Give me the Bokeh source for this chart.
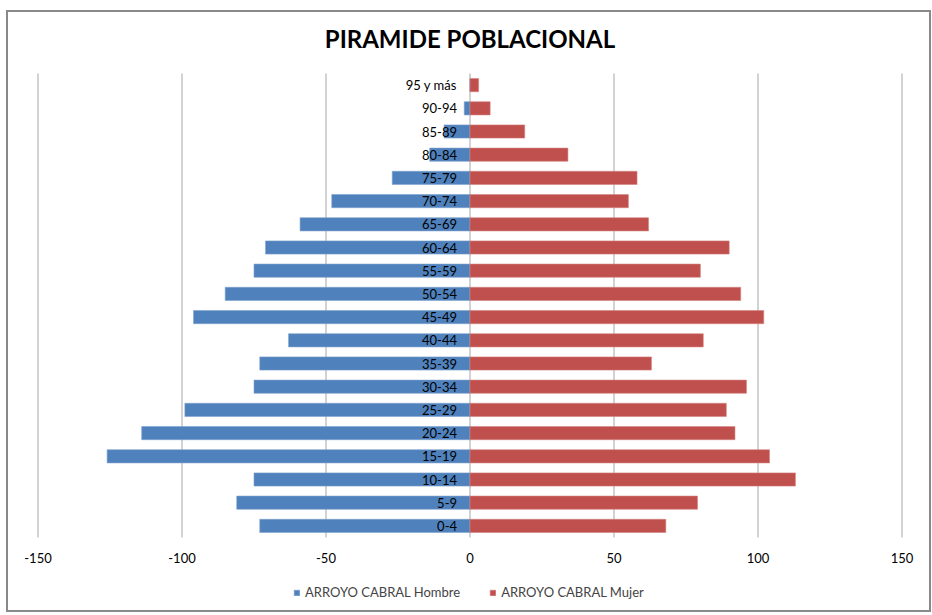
from bokeh.plotting import figure
from bokeh.models import ColumnDataSource, Range1d, Legend, LegendItem
from bokeh.core.properties import value
from bokeh.embed import file_html
from bokeh.resources import INLINE

categories = ["0-4", "5-9", "10-14", "15-19", "20-24", "25-29", "30-34", "35-39",
              "40-44", "45-49", "50-54", "55-59", "60-64", "65-69", "70-74",
              "75-79", "80-84", "85-89", "90-94", "95 y más"]
hombre = [73, 81, 75, 126, 114, 99, 75, 73, 63, 96, 85, 75, 71, 59, 48, 27, 14, 9, 2, 0]
mujer = [68, 79, 113, 104, 92, 89, 96, 63, 81, 102, 94, 80, 90, 62, 55, 58, 34, 19, 7, 3]
x_ticks = [-150, -100, -50, 0, 50, 100, 150]
x_tick_labels = [str(t) for t in x_ticks]
title_text = "PIRAMIDE POBLACIONAL"
series_names = ["ARROYO CABRAL Hombre", "ARROYO CABRAL Mujer"]

FONT = "Lato"
# layout (pixels inside the drawing area)
FW, FH = 921, 598
PX = 432 / 150            # pixels per unit on x
ZERO_PX = 461.5           # x position of 0 from left edge
S = 464 / len(categories)  # pixels per category
TOP_PX = 61               # top of the bar area from the top edge

n = len(categories)
pos = list(range(n))
src = ColumnDataSource(dict(
    y=pos, cat=categories,
    h_left=[-v for v in hombre],
    zero=[0] * n,
    m_right=mujer,
))

x_range = Range1d(-ZERO_PX / PX, (FW - ZERO_PX) / PX)
y_top = (n - 0.5) + TOP_PX / S
y_range = Range1d(y_top - FH / S, y_top)

p = figure(frame_width=FW, frame_height=FH, output_backend="svg", toolbar_location=None,
           x_range=x_range, y_range=y_range, x_axis_location=None, y_axis_location=None,
           min_border=0)
p.grid.visible = False
p.outline_line_color = None

# vertical gridlines
p.segment(x0=x_ticks, x1=x_ticks, y0=[-0.5] * len(x_ticks), y1=[n - 0.5] * len(x_ticks),
          line_color="#A6A6A6", line_width=1)

r_h = p.hbar(y="y", left="h_left", right="zero", height=0.57, source=src,
             fill_color="#4F81BD", line_color="#7FA3CF", line_width=0.6)
r_m = p.hbar(y="y", left="zero", right="m_right", height=0.57, source=src,
             fill_color="#C0504D", line_color="#D58482", line_width=0.6)

# category labels
p.text(x="zero", y="y", text="cat", source=src, x_offset=-13,
       text_align="right", text_baseline="middle", text_font=value(FONT),
       text_font_size="13px", text_color="#000000")

# x tick labels
p.text(x=x_ticks, y=[-0.5] * len(x_ticks), text=x_tick_labels, y_offset=20,
       text_align="center", text_baseline="middle", text_font=value(FONT),
       text_font_size="13px", text_color="#000000")

# title
p.text(x=[0], y=[n - 0.5], text=[title_text], y_offset=-35,
       text_align="center", text_baseline="middle", text_font=value(FONT),
       text_font_size="24px", text_font_style="bold", text_color="#000000")

legend = Legend(items=[LegendItem(label=series_names[0], renderers=[r_h]),
                       LegendItem(label=series_names[1], renderers=[r_m])],
                orientation="horizontal", location=(285, 10),
                label_text_font=FONT, label_text_font_size="13px",
                glyph_width=7, glyph_height=7, spacing=29, label_standoff=5,
                label_height=16,
                border_line_color=None, background_fill_alpha=0, margin=0, padding=2)
p.add_layout(legend)

p.styles = {"border": "2px solid #898989", "box-sizing": "border-box",
            "margin-left": "6px", "margin-top": "10px"}

open("out.html", "w").write(file_html(p, INLINE))
